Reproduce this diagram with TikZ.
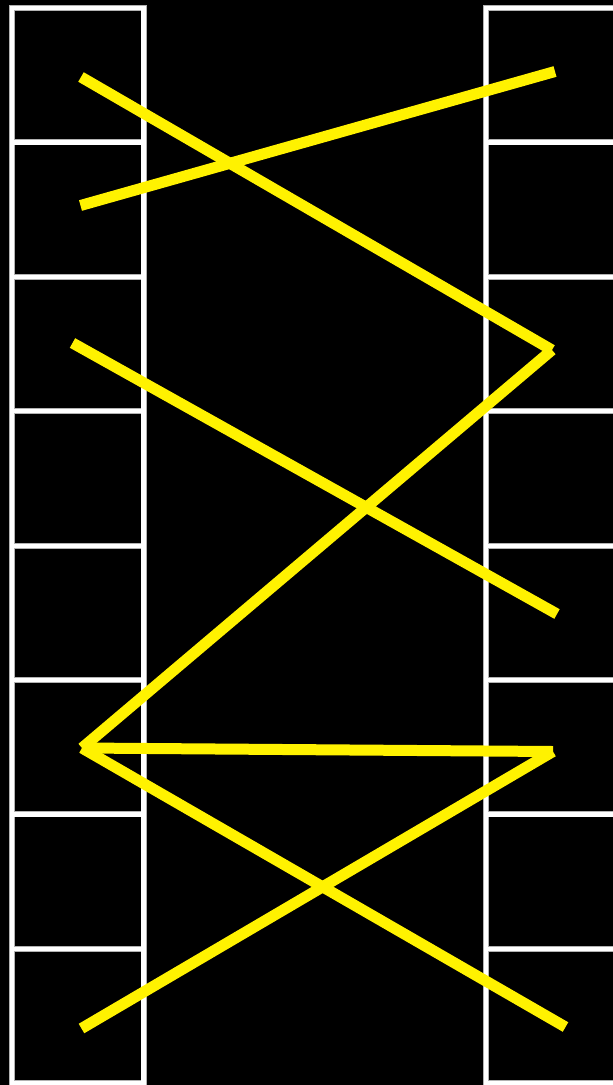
\documentclass[tikz,border=0pt]{standalone}
\usepackage{tikz}
\usetikzlibrary{positioning}

\begin{document}
\begin{tikzpicture}[x=1pt, y=-1pt,
    cellrim/.style={draw=gray!60, line width=6pt},
    cellbox/.style={draw=white, line width=4.2pt},
    link/.style={draw=yellow, line width=11pt}]
        % Background and page size
        \fill[black] (0,0) rectangle (613,1085);
        \useasboundingbox (0,0) rectangle (613,1085);

        % Two columns of cells
        \foreach \i in {0,...,7}{
            \pgfmathsetmacro{\celltop}{8+134.4*\i}
            \pgfmathsetmacro{\cellbot}{8+134.4*(\i+1)}
            \draw[cellrim] (12,\celltop) rectangle (143.5,\cellbot);
            \draw[cellrim] (486.3,\celltop) rectangle (618,\cellbot);
        }
        \foreach \i in {0,...,7}{
            \pgfmathsetmacro{\celltop}{8+134.4*\i}
            \pgfmathsetmacro{\cellbot}{8+134.4*(\i+1)}
            \draw[cellbox] (12,\celltop) rectangle (143.5,\cellbot);
            \draw[cellbox] (486.3,\celltop) rectangle (618,\cellbot);
        }

        % Points in the cells
        \coordinate (L1) at (81,77);
        \coordinate (L2) at (80.5,205.5);
        \coordinate (L3) at (72.5,343);
        \coordinate (L6) at (82,748);
        \coordinate (L8) at (81.5,1028.5);
        \coordinate (R1) at (555,71.5);
        \coordinate (R3) at (552,350);
        \coordinate (R5) at (557,614);
        \coordinate (R6) at (553,751.5);
        \coordinate (R8) at (565.5,1027);

        % Links
        \draw[link] (L2) -- (R1);
        \draw[link] (L1) -- (R3);
        \draw[link] (R3) -- (L6);
        \draw[link] (L3) -- (R5);
        \draw[link] (L6) -- (R6);
        \draw[link] (L6) -- (R8);
        \draw[link] (R6) -- (L8);
    \end{tikzpicture}
\end{document}
